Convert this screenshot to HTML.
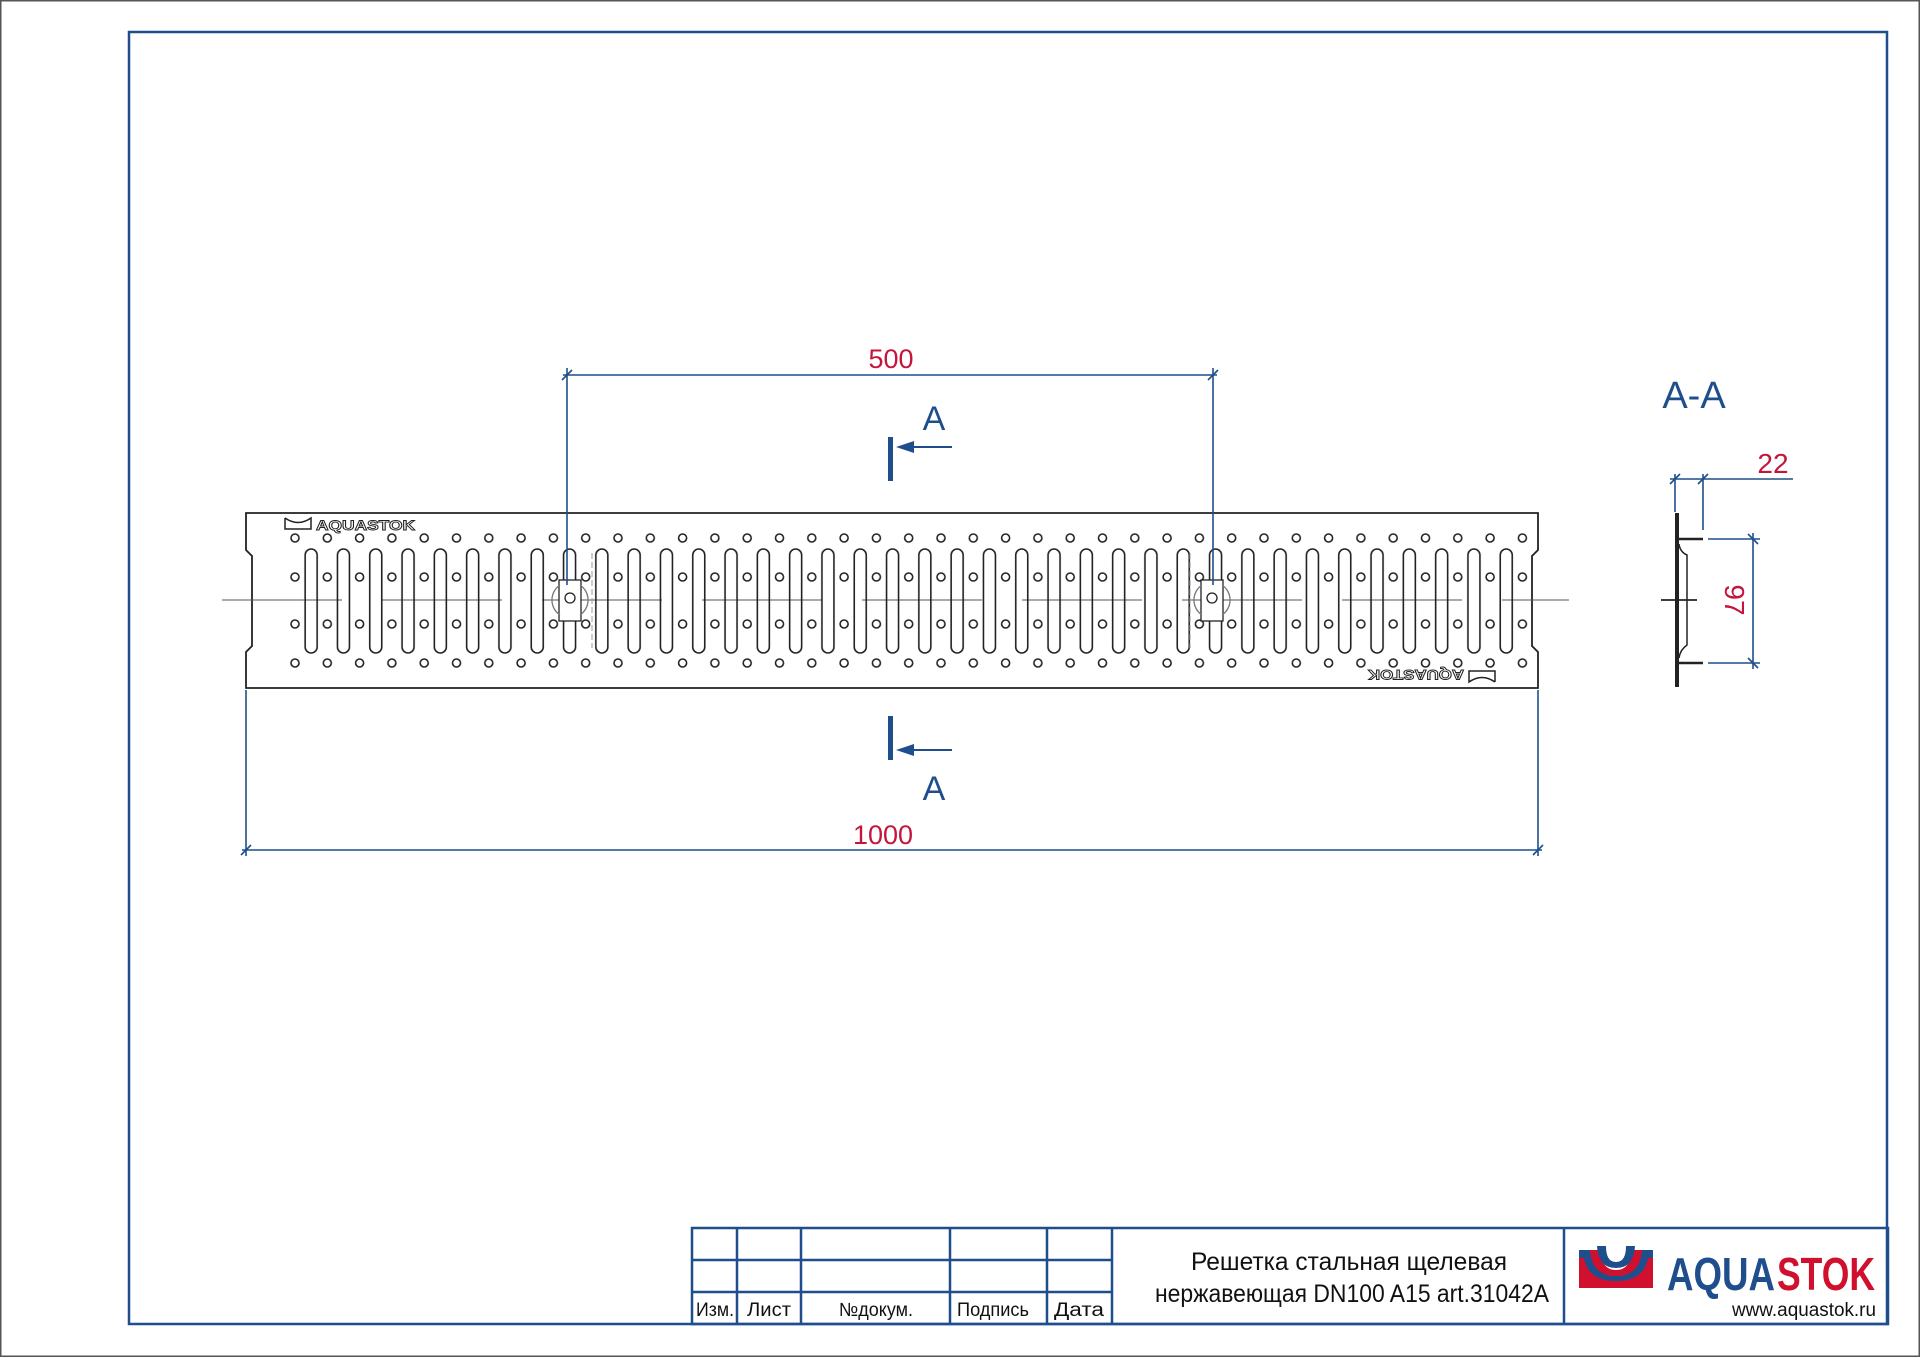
<!DOCTYPE html>
<html><head><meta charset="utf-8"><style>
html,body{margin:0;padding:0;background:#fff;}
svg{display:block;}
text{font-family:"Liberation Sans","DejaVu Sans",sans-serif;}
</style></head><body>
<svg width="1920" height="1357" viewBox="0 0 1920 1357" xmlns="http://www.w3.org/2000/svg">
<defs>
<pattern id="holes" patternUnits="userSpaceOnUse" x="279" y="0" width="32.3" height="1357">
<g fill="none" stroke="#222" stroke-width="1.6">
<circle cx="16" cy="538" r="4"/><circle cx="16" cy="577" r="4"/><circle cx="16" cy="624" r="4"/><circle cx="16" cy="663" r="4"/>
</g></pattern>
<pattern id="slots" patternUnits="userSpaceOnUse" x="295" y="0" width="32.3" height="1357">
<rect x="10.15" y="549" width="12" height="104" rx="6" fill="none" stroke="#222" stroke-width="1.6"/>
</pattern>
</defs>
<rect x="0.5" y="0.5" width="1919" height="1356" fill="#fff" stroke="#555" stroke-width="2"/>
<rect x="129" y="32" width="1758" height="1292" fill="none" stroke="#1f4e8c" stroke-width="2.5"/>

<!-- plate -->
<path d="M246 513 H1538 V550 L1532 556 V646 L1538 652 V688 H246 V652 L252 646 V556 L246 550 Z" fill="none" stroke="#222" stroke-width="1.8"/>
<line x1="222" y1="600" x2="1569" y2="600" stroke="#555" stroke-width="1" stroke-dasharray="120 40"/>
<rect x="279" y="520" width="1259.7" height="160" fill="url(#holes)"/>
<rect x="295" y="540" width="1227.4" height="120" fill="url(#slots)"/>
<!-- clips -->
<g fill="#fff" stroke="#222" stroke-width="1.3">
<rect x="559" y="580" width="22" height="41"/><circle cx="570" cy="598" r="5"/>
<path d="M560 585 A18 18 0 0 0 560 615 M580 585 A18 18 0 0 1 580 615" fill="none" stroke="#777"/>
<rect x="1201" y="580" width="22" height="41"/><circle cx="1212" cy="598" r="5"/>
<path d="M1202 585 A18 18 0 0 0 1202 615 M1222 585 A18 18 0 0 1 1222 615" fill="none" stroke="#777"/>
</g>
<line x1="592" y1="553" x2="592" y2="648" stroke="#999" stroke-dasharray="6 3"/>
<line x1="1190" y1="553" x2="1190" y2="648" stroke="#999" stroke-dasharray="6 3"/>
<!-- logos on plate -->
<g stroke="#222" stroke-width="1.5" fill="none"><path d="M285 518 V529 H311 V518 Q298 527 285 518"/></g>
<text x="316" y="530" font-size="14" font-weight="bold" fill="#fff" stroke="#222" stroke-width="0.9" textLength="99" lengthAdjust="spacingAndGlyphs">AQUASTOK</text>
<g transform="rotate(180 1432 676)">
<g stroke="#222" stroke-width="1.5" fill="none"><path d="M1369 670 V681 H1395 V670 Q1382 679 1369 670"/></g>
<text x="1400" y="682" font-size="14" font-weight="bold" fill="#fff" stroke="#222" stroke-width="0.9" textLength="96" lengthAdjust="spacingAndGlyphs">AQUASTOK</text>
</g>

<!-- dimensions -->
<g stroke="#1f4e8c" stroke-width="1.6" fill="none">
<line x1="567" y1="368" x2="567" y2="585"/><line x1="1213" y1="368" x2="1213" y2="585"/>
<line x1="563" y1="375" x2="1217" y2="375"/>
<line x1="562" y1="380" x2="572" y2="370"/><line x1="1208" y1="380" x2="1218" y2="370"/>
<line x1="246" y1="690" x2="246" y2="856"/><line x1="1538" y1="690" x2="1538" y2="856"/>
<line x1="242" y1="850" x2="1542" y2="850"/>
<line x1="241" y1="855" x2="251" y2="845"/><line x1="1533" y1="855" x2="1543" y2="845"/>
</g>
<text x="891" y="368" font-size="27" fill="#c4163c" text-anchor="middle">500</text>
<text x="883" y="844" font-size="27" fill="#c4163c" text-anchor="middle">1000</text>

<!-- section marks -->
<g fill="#1f4e8c" stroke="#1f4e8c">
<rect x="888" y="437" width="5" height="44" stroke="none"/>
<line x1="905" y1="447" x2="952" y2="447" stroke-width="2"/>
<path d="M896 447 L914 441 L914 453 Z" stroke="none"/>
<rect x="888" y="716" width="5" height="44" stroke="none"/>
<line x1="905" y1="750" x2="952" y2="750" stroke-width="2"/>
<path d="M896 750 L914 744 L914 756 Z" stroke="none"/>
</g>
<text x="934" y="430" font-size="34" fill="#1f4e8c" text-anchor="middle">A</text>
<text x="934" y="800" font-size="34" fill="#1f4e8c" text-anchor="middle">A</text>
<text x="1694" y="408" font-size="38" fill="#1f4e8c" text-anchor="middle">A-A</text>

<!-- section view -->
<g stroke="#222" fill="none">
<line x1="1677" y1="513" x2="1677" y2="687" stroke-width="4"/>
<line x1="1679" y1="539" x2="1703" y2="539" stroke-width="2.5"/>
<line x1="1679" y1="663" x2="1703" y2="663" stroke-width="2.5"/>
<path d="M1679 544 Q1680 552 1687 555 V645 Q1680 650 1679 658" stroke-width="1.5"/>
<line x1="1661" y1="600" x2="1697" y2="600" stroke-width="1.8"/>
</g>
<g stroke="#1f4e8c" stroke-width="1.6" fill="none">
<line x1="1675" y1="474" x2="1675" y2="512"/><line x1="1703" y1="474" x2="1703" y2="530"/>
<line x1="1670" y1="479" x2="1793" y2="479"/>
<line x1="1670" y1="484" x2="1680" y2="474"/><line x1="1698" y1="484" x2="1708" y2="474"/>
<line x1="1708" y1="539" x2="1760" y2="539"/><line x1="1708" y1="663" x2="1760" y2="663"/>
<line x1="1753" y1="533" x2="1753" y2="669"/>
<line x1="1748" y1="534" x2="1758" y2="544"/><line x1="1748" y1="658" x2="1758" y2="668"/>
</g>
<text x="1773" y="473" font-size="28" fill="#c4163c" text-anchor="middle">22</text>
<text transform="translate(1735 600) rotate(90)" x="0" y="10" font-size="28" fill="#c4163c" text-anchor="middle">97</text>

<!-- title block -->
<g stroke="#1f4e8c" stroke-width="2.5" fill="none">
<rect x="692" y="1228" width="1196" height="96"/>
<line x1="692" y1="1260" x2="1112" y2="1260"/><line x1="692" y1="1292" x2="1112" y2="1292"/>
<line x1="737" y1="1228" x2="737" y2="1324"/><line x1="801" y1="1228" x2="801" y2="1324"/>
<line x1="950" y1="1228" x2="950" y2="1324"/><line x1="1047" y1="1228" x2="1047" y2="1324"/>
<line x1="1112" y1="1228" x2="1112" y2="1324"/><line x1="1564" y1="1228" x2="1564" y2="1324"/>
</g>
<g font-size="19" fill="#111" text-anchor="middle">
<text x="715" y="1316" textLength="38" lengthAdjust="spacingAndGlyphs">Изм.</text>
<text x="769" y="1316" textLength="44" lengthAdjust="spacingAndGlyphs">Лист</text>
<text x="876" y="1316" textLength="74" lengthAdjust="spacingAndGlyphs">№докум.</text>
<text x="993" y="1316" textLength="72" lengthAdjust="spacingAndGlyphs">Подпись</text>
<text x="1079" y="1316" textLength="50" lengthAdjust="spacingAndGlyphs">Дата</text>
</g>
<text x="1349" y="1270" font-size="25" fill="#111" text-anchor="middle" textLength="316" lengthAdjust="spacingAndGlyphs">Решетка стальная щелевая</text>
<text x="1352" y="1302" font-size="25" fill="#111" text-anchor="middle" textLength="394" lengthAdjust="spacingAndGlyphs">нержавеющая DN100  A15  art.31042A</text>
<!-- logo -->
<path d="M1579 1250 H1601 Q1601 1270 1616 1270 Q1631 1270 1631 1250 H1653 V1288 H1579 Z" fill="#d0102c"/>
<path d="M1579 1250 H1590 Q1592 1276 1616 1276 Q1640 1276 1642 1250 H1653 V1258 H1648 Q1644 1281 1616 1281 Q1588 1281 1584 1258 H1579 Z" fill="#1f4e8c"/>
<path d="M1597 1246 H1606 Q1606 1262 1616 1262 Q1626 1262 1626 1246 H1635 Q1634 1268 1616 1268 Q1598 1268 1597 1246 Z" fill="#1f4e8c"/>
<text x="1667" y="1290" font-size="46" font-weight="bold" fill="#1f4e8c" textLength="108" lengthAdjust="spacingAndGlyphs">AQUA</text>
<text x="1777" y="1290" font-size="46" font-weight="bold" fill="#d0102c" textLength="98" lengthAdjust="spacingAndGlyphs">STOK</text>
<text x="1876" y="1316" font-size="19" fill="#111" text-anchor="end" textLength="144" lengthAdjust="spacingAndGlyphs">www.aquastok.ru</text>
</svg>
</body></html>
